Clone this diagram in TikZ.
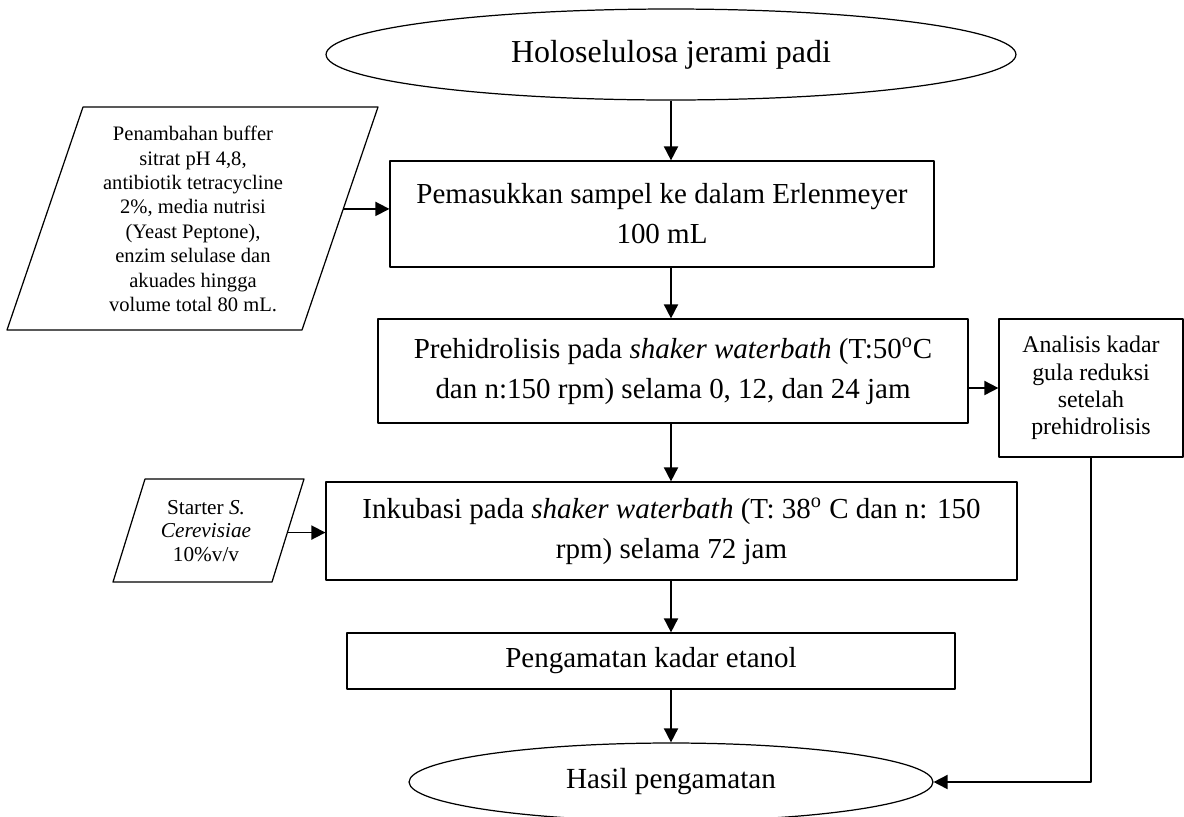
\documentclass[tikz,border=0pt]{standalone}
\usepackage{fontspec}
\setmainfont{Liberation Serif}
\usetikzlibrary{shapes.geometric,arrows.meta,calc}

\begin{document}
\begin{tikzpicture}[x=0.02cm, y=-0.02cm, line join=round,
  proses/.style={draw, line width=0.7pt, rectangle, align=center, inner sep=0pt,
    font=\fontsize{16.5}{22.7}\selectfont},
  terminal/.style={draw, line width=0.7pt, ellipse, inner sep=0pt},
  teks/.style={align=center, inner sep=0pt},
  panah/.style={line width=1pt, -{Triangle[length=8pt,width=8pt]}}]
  \useasboundingbox (0,0) rectangle (1184,816);

  % Start and end (ellipses)
  \node[terminal, minimum width=13.8cm, minimum height=1.82cm,
    font=\fontsize{18.2}{22}\selectfont] (mulai) at (671,54.5) {Holoselulosa jerami padi};
  \node[terminal, minimum width=10.48cm, minimum height=1.56cm,
    font=\fontsize{16.6}{20}\selectfont] (selesai) at (671,782) {Hasil pengamatan};

  % Process boxes
  \node[proses, minimum width=10.88cm, minimum height=2.12cm] (masuk) at (662,214)
    {Pemasukkan sampel ke dalam Erlenmeyer\\ 100 mL};
  \node[proses, minimum width=11.8cm, minimum height=2.08cm] (prehid) at (673,371)
    {Prehidrolisis pada \textit{shaker waterbath} (T:50\textsuperscript{o}C\\
     dan n:150 rpm) selama 0, 12, dan 24 jam};
  \node[proses, minimum width=13.82cm, minimum height=1.96cm] (inkub) at (671.5,531)
    {Inkubasi pada \textit{shaker waterbath} (T: 38\textsuperscript{o} C dan n: 150\\
     rpm) selama 72 jam};
  \node[proses, minimum width=12.16cm, minimum height=1.12cm] (etanol) at (651,661)
    {Pengamatan kadar etanol};
  \node[proses, minimum width=3.68cm, minimum height=2.76cm,
    font=\fontsize{13.6}{15.6}\selectfont] (analisis) at (1091,388)
    {Analisis kadar\\ gula reduksi\\ setelah\\ prehidrolisis};

  % Input parallelograms (outline drawn from corner coordinates)
  \coordinate (b1) at (83,107);   % top-left
  \coordinate (b2) at (378,107);  % top-right
  \coordinate (b3) at (302,330);  % bottom-right
  \coordinate (b4) at (7,330);    % bottom-left
  \draw[line width=0.7pt] (b1) -- (b2) -- (b3) -- (b4) -- cycle;
  \node[teks, font=\fontsize{11.7}{13.9}\selectfont] (bahan) at (193,219)
    {Penambahan buffer\\ sitrat pH 4,8,\\ antibiotik tetracycline\\ 2\%, media nutrisi\\
     (Yeast Peptone),\\ enzim selulase dan\\ akuades hingga\\ volume total 80 mL.};
  \coordinate (bahan-r) at ($(b2)!0.457!(b3)$);

  \coordinate (s1) at (145,479);
  \coordinate (s2) at (304,479);
  \coordinate (s3) at (272,582);
  \coordinate (s4) at (113,582);
  \draw[line width=0.7pt] (s1) -- (s2) -- (s3) -- (s4) -- cycle;
  \node[teks, font=\fontsize{12.1}{13.6}\selectfont] (starter) at (206,531)
    {Starter \textit{S.}\\ \textit{Cerevisiae}\\ 10\%v/v};
  \coordinate (starter-r) at ($(s2)!0.52!(s3)$);

  % Main flow
  \draw[panah] (mulai) -- (mulai |- masuk.north);
  \draw[panah] (mulai |- masuk.south) -- (mulai |- prehid.north);
  \draw[panah] (mulai |- prehid.south) -- (mulai |- inkub.north);
  \draw[panah] (mulai |- inkub.south) -- (mulai |- etanol.north);
  \draw[panah] (mulai |- etanol.south) -- (selesai);

  % Side inputs and analysis branch
  \draw[panah] (bahan-r) -- (bahan-r -| masuk.west);
  \draw[panah] (starter-r) -- (starter-r -| inkub.west);
  \draw[panah] (prehid.east |- analisis.west) -- (analisis.west);
  \draw[panah] (analisis.south) -- (analisis.south |- selesai.east) -- (selesai.east);
\end{tikzpicture}
\end{document}
